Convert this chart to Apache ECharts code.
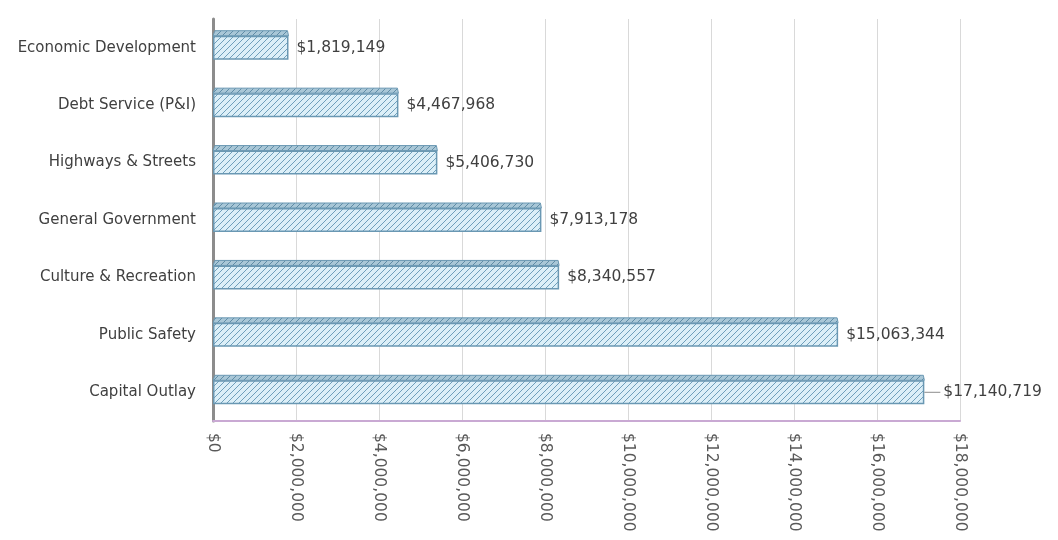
<!DOCTYPE html>
<html>
<head>
<meta charset="utf-8">
<script src="https://cdn.jsdelivr.net/npm/echarts@6/dist/echarts.min.js"></script>
<style>
html,body{margin:0;padding:0;background:#fff;}
#chart{width:1058px;height:540px;}
</style>
</head>
<body>
<div id="chart"></div>
<script>
const categories = ["Capital Outlay","Public Safety","Culture & Recreation","General Government","Highways & Streets","Debt Service (P&I)","Economic Development"];
const values = [17140719,15063344,8340557,7913178,5406730,4467968,1819149];
const tickValues = [0,2000000,4000000,6000000,8000000,10000000,12000000,14000000,16000000,18000000];

function money(v){ return '$' + Math.round(v).toLocaleString('en-US'); }

function hatch(bg, fg){
  const pc = document.createElement('canvas');
  pc.width = 6; pc.height = 6;
  const g = pc.getContext('2d');
  g.fillStyle = bg;
  g.fillRect(0,0,6,6);
  g.strokeStyle = fg;
  g.lineWidth = 1;
  g.beginPath();
  g.moveTo(0,6); g.lineTo(6,0);
  g.moveTo(-1,1); g.lineTo(1,-1);
  g.moveTo(5,7); g.lineTo(7,5);
  g.stroke();
  return pc;
}
const frontPat = hatch('#dceff8', '#6f9fbb');
const topPat = hatch('#a9c7d7', '#5f8ca6');

const FONT = '"DejaVu Sans", sans-serif';
const BARW = 24, DEPTH = 5;

const barData = values.map(function(v,i){
  return i===0 ? {value:v,label:{distance:0}} : v;
});

const chart = echarts.init(document.getElementById('chart'));
chart.setOption({
  animation:false,
  grid:{left:213,right:98,top:19,bottom:119,containLabel:false},
  xAxis:{
    type:'value', min:0, max:18000000, interval:2000000,
    axisLine:{show:true,lineStyle:{color:'#c9a9d3',width:2}},
    axisTick:{show:false},
    splitLine:{show:true,lineStyle:{color:'#d9d9d9',width:1}},
    axisLabel:{rotate:-90,color:'#595959',fontSize:15.5,fontFamily:FONT,margin:12,
      formatter:function(v){ return tickValues.indexOf(v)>=0 ? money(v) : ''; }}
  },
  yAxis:{
    type:'category', data:categories,
    axisLine:{show:true,lineStyle:{color:'#8c8c8c',width:3}},
    axisTick:{show:false},
    axisLabel:{color:'#404040',fontSize:15,fontFamily:FONT,margin:17}
  },
  series:[{
    type:'bar', data:barData, barWidth:BARW, z:3,
    itemStyle:{color:{image:frontPat,repetition:'repeat'},borderColor:'#6a98b3',borderWidth:1.5},
    label:{show:true,position:'right',distance:8,color:'#404040',fontSize:15.5,fontFamily:FONT,
      formatter:function(p){ return p.dataIndex===0 ? '{l|}{v|'+money(p.value)+'}' : money(p.value); },
      rich:{l:{width:16,height:1,backgroundColor:'#8c8c8c'},v:{padding:[0,0,0,3],fontSize:15.5,fontFamily:FONT,color:'#404040'}}
    }
  },{
    type:'custom', z:4,
    data:values.map(function(v,i){ return [v,i]; }),
    encode:{x:0,y:1},
    renderItem:function(params, api){
      const p0 = api.coord([0, api.value(1)]);
      const p1 = api.coord([api.value(0), api.value(1)]);
      const yTop = p0[1] - BARW/2;
      return {
        type:'polygon',
        shape:{points:[[p0[0], yTop],[p0[0]+2, yTop-DEPTH],[p1[0]-1, yTop-DEPTH],[p1[0], yTop]]},
        style:{fill:{image:topPat,repetition:'repeat'},stroke:'#6a98b3',lineWidth:1}
      };
    }
  }]
});
</script>
</body>
</html>
